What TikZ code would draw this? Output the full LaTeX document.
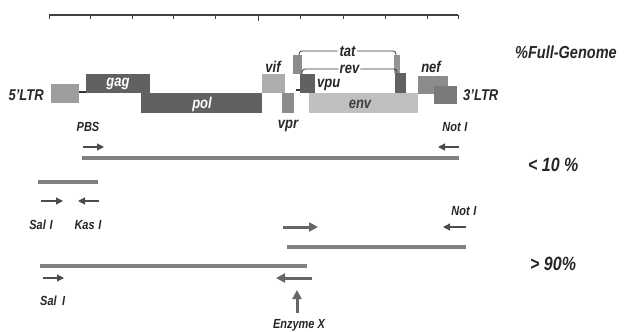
\documentclass[tikz,border=0pt]{standalone}
\usepackage{fontspec}
\usepackage{graphicx}
\setmainfont{Liberation Sans}
\usetikzlibrary{arrows.meta}
\newcommand\vstr[1]{\scalebox{1}[1.2]{#1}}
\begin{document}
\begin{tikzpicture}[x=1pt,y=-1pt,
  gbox/.style={draw=none, inner sep=0pt, outer sep=0pt},
  glab/.style={font=\fontsize{13}{15}\selectfont\bfseries\itshape, text=black!85, inner sep=0pt},
  inlab/.style={font=\fontsize{13}{15}\selectfont\bfseries\itshape, inner sep=0pt},
  plab/.style={font=\fontsize{16}{18}\selectfont\bfseries\itshape, text=black!85, inner sep=0pt},
  slab/.style={font=\fontsize{11}{13}\selectfont\bfseries\itshape, text=black!85, inner sep=0pt},
  bar/.style={line width=4pt, draw=black!50},
  tarr/.style={line width=1.2pt, draw=black!70, -{Triangle[length=7pt,width=7pt]}},
  karr/.style={line width=3pt, draw=black!60, -{Triangle[length=9pt,width=9pt]}},
  brk/.style={line width=0.8pt, draw=black!80, rounded corners=3pt},
  ruler/.style={line width=1.2pt, draw=black!75},
]
\useasboundingbox (0,0) rectangle (624,332);

% scale ruler
\draw[ruler] (49,15) -- (458,15);
\foreach \t in {49,90,132,173,215,300,343,385,427,458}
  \draw[ruler, line width=1pt] (\t,15) -- (\t,18.5);
\draw[ruler, line width=1pt] (258,15) -- (258,21);

% genome boxes
\node[gbox, fill=black!38, minimum width=28pt, minimum height=19pt] (ltr5) at (65,93.5) {};
\node[gbox, fill=black!62, minimum width=64pt, minimum height=19pt] (gag) at (118,83.5) {};
\node[gbox, fill=black!62, minimum width=121pt, minimum height=20pt] (pol) at (201.5,103) {};
\node[gbox, fill=black!32, minimum width=23pt, minimum height=19pt] (vif) at (273.5,83.5) {};
\node[gbox, fill=black!45, minimum width=12pt, minimum height=20pt] (vpr) at (288,103) {};
\node[gbox, fill=black!45, minimum width=9pt, minimum height=19pt] (tat1) at (297.5,64.5) {};
\node[gbox, fill=black!25, minimum width=109pt, minimum height=20pt] (env) at (363.5,103) {};
\node[gbox, fill=black!62, minimum width=15pt, minimum height=19pt] (vpu) at (307.5,83.5) {};
\node[gbox, fill=black!42, minimum width=6pt, minimum height=18pt] (tat2) at (397,64) {};
\node[gbox, fill=black!62, minimum width=11pt, minimum height=20pt] (rev2) at (400.5,83) {};
\node[gbox, fill=black!45, minimum width=30pt, minimum height=18pt] (nef) at (433,85) {};
\node[gbox, fill=black!52, minimum width=23pt, minimum height=18pt] (ltr3) at (445.5,95) {};

% connectors in genome
\coordinate (gagl) at (86,92);
\draw[line width=1.2pt, black!80] (ltr5.east |- gagl) -- (gagl);
\coordinate (d1) at (296,90);
\coordinate (d2) at (299.5,90);
\draw[line width=1.5pt, black!80] (d1) -- (d2);

% tat / rev brackets
\coordinate (ty) at (0,51);
\coordinate (ry) at (0,69);
\coordinate (t1) at (299,55);
\coordinate (t2) at (396,55);
\coordinate (r1) at (302,74);
\coordinate (r2) at (397,73);
\draw[brk] (t1) -- (t1 |- ty) -- node[glab, fill=white, inner xsep=2pt] (tat) {\vstr{tat}} (t2 |- ty) -- (t2);
\draw[brk] (r1) -- (r1 |- ry) -- node[glab, fill=white, inner xsep=1pt] (rev) {\vstr{rev}} (r2 |- ry) -- (r2);

% gene labels
\node[inlab, text=white] (gagt) at (118,84) {\vstr{gag}};
\node[inlab, text=white] (polt) at (202,104) {\vstr{pol}};
\node[inlab, text=black!75] (envt) at (360,104) {\vstr{env}};
\node[glab, anchor=base east] (l5) at (44,100) {\vstr{5'LTR}};
\node[glab, anchor=base] (vift) at (273,72.5) {\vstr{vif}};
\node[glab, anchor=base] (vprt) at (288,128) {\vstr{vpr}};
\node[glab, anchor=base west] (vput) at (317,87) {\vstr{vpu}};
\node[glab, anchor=base] (neft) at (431,72) {\vstr{nef}};
\node[glab, anchor=base west] (l3) at (463,100) {\vstr{3'LTR}};
\node[plab, anchor=base west, font=\fontsize{14.5}{17}\selectfont\bfseries\itshape] (fg) at (515,58) {\vstr{\%Full-Genome}};

% < 10 % group
\node[slab, anchor=base] (pbs) at (88,131) {\vstr{PBS}};
\node[slab, anchor=base] (not1) at (455,131) {\vstr{Not\,\,I}};
\coordinate (a1s) at (83,147); \coordinate (a1e) at (104,147);
\coordinate (a2s) at (459,147); \coordinate (a2e) at (438,147);
\draw[tarr] (a1s) -- (a1e);
\draw[tarr] (a2s) -- (a2e);
\coordinate (b1s) at (82,158); \coordinate (b1e) at (459,158);
\draw[bar] (b1s) -- (b1e);
\node[plab, anchor=base west] (p10) at (528,171) {\vstr{< 10 \%}};

\coordinate (b2s) at (38,182); \coordinate (b2e) at (98,182);
\draw[bar] (b2s) -- (b2e);
\coordinate (a3s) at (41,201); \coordinate (a3e) at (63,201);
\coordinate (a4s) at (99,201); \coordinate (a4e) at (78,201);
\draw[tarr] (a3s) -- (a3e);
\draw[tarr] (a4s) -- (a4e);
\node[slab, anchor=base] (sal1) at (41,229) {\vstr{Sal\,\,I}};
\node[slab, anchor=base] (kas1) at (88,229) {\vstr{Kas\,\,I}};

% > 90% group
\node[slab, anchor=base] (not2) at (464,215) {\vstr{Not\,\,I}};
\coordinate (a5s) at (283,227); \coordinate (a5e) at (318,227);
\draw[karr] (a5s) -- (a5e);
\coordinate (a6s) at (466,227); \coordinate (a6e) at (443,227);
\draw[tarr] (a6s) -- (a6e);
\coordinate (b3s) at (287,247); \coordinate (b3e) at (466,247);
\draw[bar] (b3s) -- (b3e);
\coordinate (b4s) at (40,266); \coordinate (b4e) at (307,266);
\draw[bar] (b4s) -- (b4e);
\node[plab, anchor=base west] (p90) at (530,270) {\vstr{> 90\%}};
\coordinate (a7s) at (43,278); \coordinate (a7e) at (64,278);
\draw[tarr] (a7s) -- (a7e);
\coordinate (a8s) at (312,278); \coordinate (a8e) at (276,278);
\draw[karr] (a8s) -- (a8e);
\node[slab, anchor=base west] (sal2) at (40,305) {\vstr{Sal\,\,\,I}};
\node[slab, anchor=base] (enz) at (299,328) {\vstr{Enzyme X}};
\coordinate (ezs) at (297,313);
\coordinate (eze) at (297,290);
\draw[karr] (ezs) -- (eze);
\end{tikzpicture}
\end{document}
